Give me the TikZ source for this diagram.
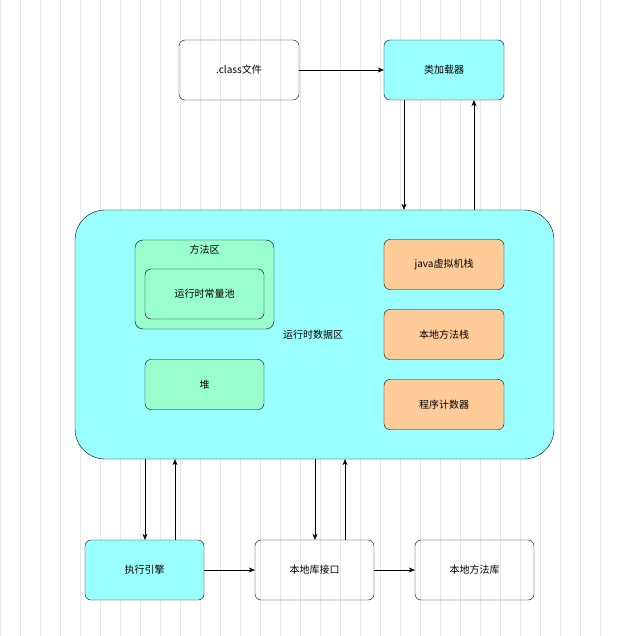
\documentclass[tikz,border=0pt]{standalone}
\usepackage{fontspec}
\setmainfont{Noto Sans CJK SC}
\usetikzlibrary{arrows.meta}
\definecolor{cy}{HTML}{99FFFF}
\definecolor{gr}{HTML}{99FFCC}
\definecolor{orr}{HTML}{FFCC99}
\begin{document}
\begin{tikzpicture}[x=1pt,y=-1pt,
 box/.style={draw=black,rounded corners=6pt,minimum width=120pt,minimum height=50pt,font=\fontsize{10}{12}\selectfont,inner sep=0pt},
 arr/.style={-{Stealth[length=6pt,width=5pt]},thin}]
\useasboundingbox (0,0) rectangle (616,636);
\fill[white] (0,0) rectangle (616,636);
\draw[gray!18,step=20] (0,0) grid (616,636);
\node[box,minimum height=60pt] (cf) at (239,70) {.class文件};
\node[box,fill=cy,minimum height=60pt] (cl) at (444,70) {类加载器};
\node[box,fill=cy,rounded corners=30pt,minimum width=479pt,minimum height=249pt] (big) at (314.5,334.5) {};
\node[font=\fontsize{10}{12}\selectfont] (rt) at (313,335) {运行时数据区};
\node[box,fill=gr,minimum width=139pt,minimum height=89pt,rounded corners=8pt] (ff) at (204.5,284.5) {};
\node[font=\fontsize{10}{12}\selectfont] (fl) at (204.5,250) {方法区};
\node[box,fill=gr,minimum width=119pt] (cl2) at (204.5,294) {运行时常量池};
\node[box,fill=gr,minimum width=119pt] (heap) at (204.5,384.5) {堆};
\node[box,fill=orr] (js) at (444,264.5) {java虚拟机栈};
\node[box,fill=orr] (ns) at (444,334.5) {本地方法栈};
\node[box,fill=orr] (pc) at (444,404.5) {程序计数器};
\node[box,fill=cy,minimum width=119pt,minimum height=60pt] (ee) at (144.5,570) {执行引擎};
\node[box,minimum width=119pt,minimum height=60pt] (ni) at (314.5,570) {本地库接口};
\node[box,minimum width=119pt,minimum height=60pt] (nl) at (474.5,570) {本地方法库};
\draw[arr] (cf) -- (cl);
\draw[arr] (cl.south -| 404,0) -- (big.north -| 404,0);
\draw[arr] (big.north -| 474,0) -- (cl.south -| 474,0);
\draw[arr] (big.south -| 145,0) -- (ee.north -| 145,0);
\draw[arr] (ee.north -| 175,0) -- (big.south -| 175,0);
\draw[arr] (big.south -| 315,0) -- (ni.north -| 315,0);
\draw[arr] (ni.north -| 345,0) -- (big.south -| 345,0);
\draw[arr] (ee) -- (ni);
\draw[arr] (ni) -- (nl);
\end{tikzpicture}
\end{document}
